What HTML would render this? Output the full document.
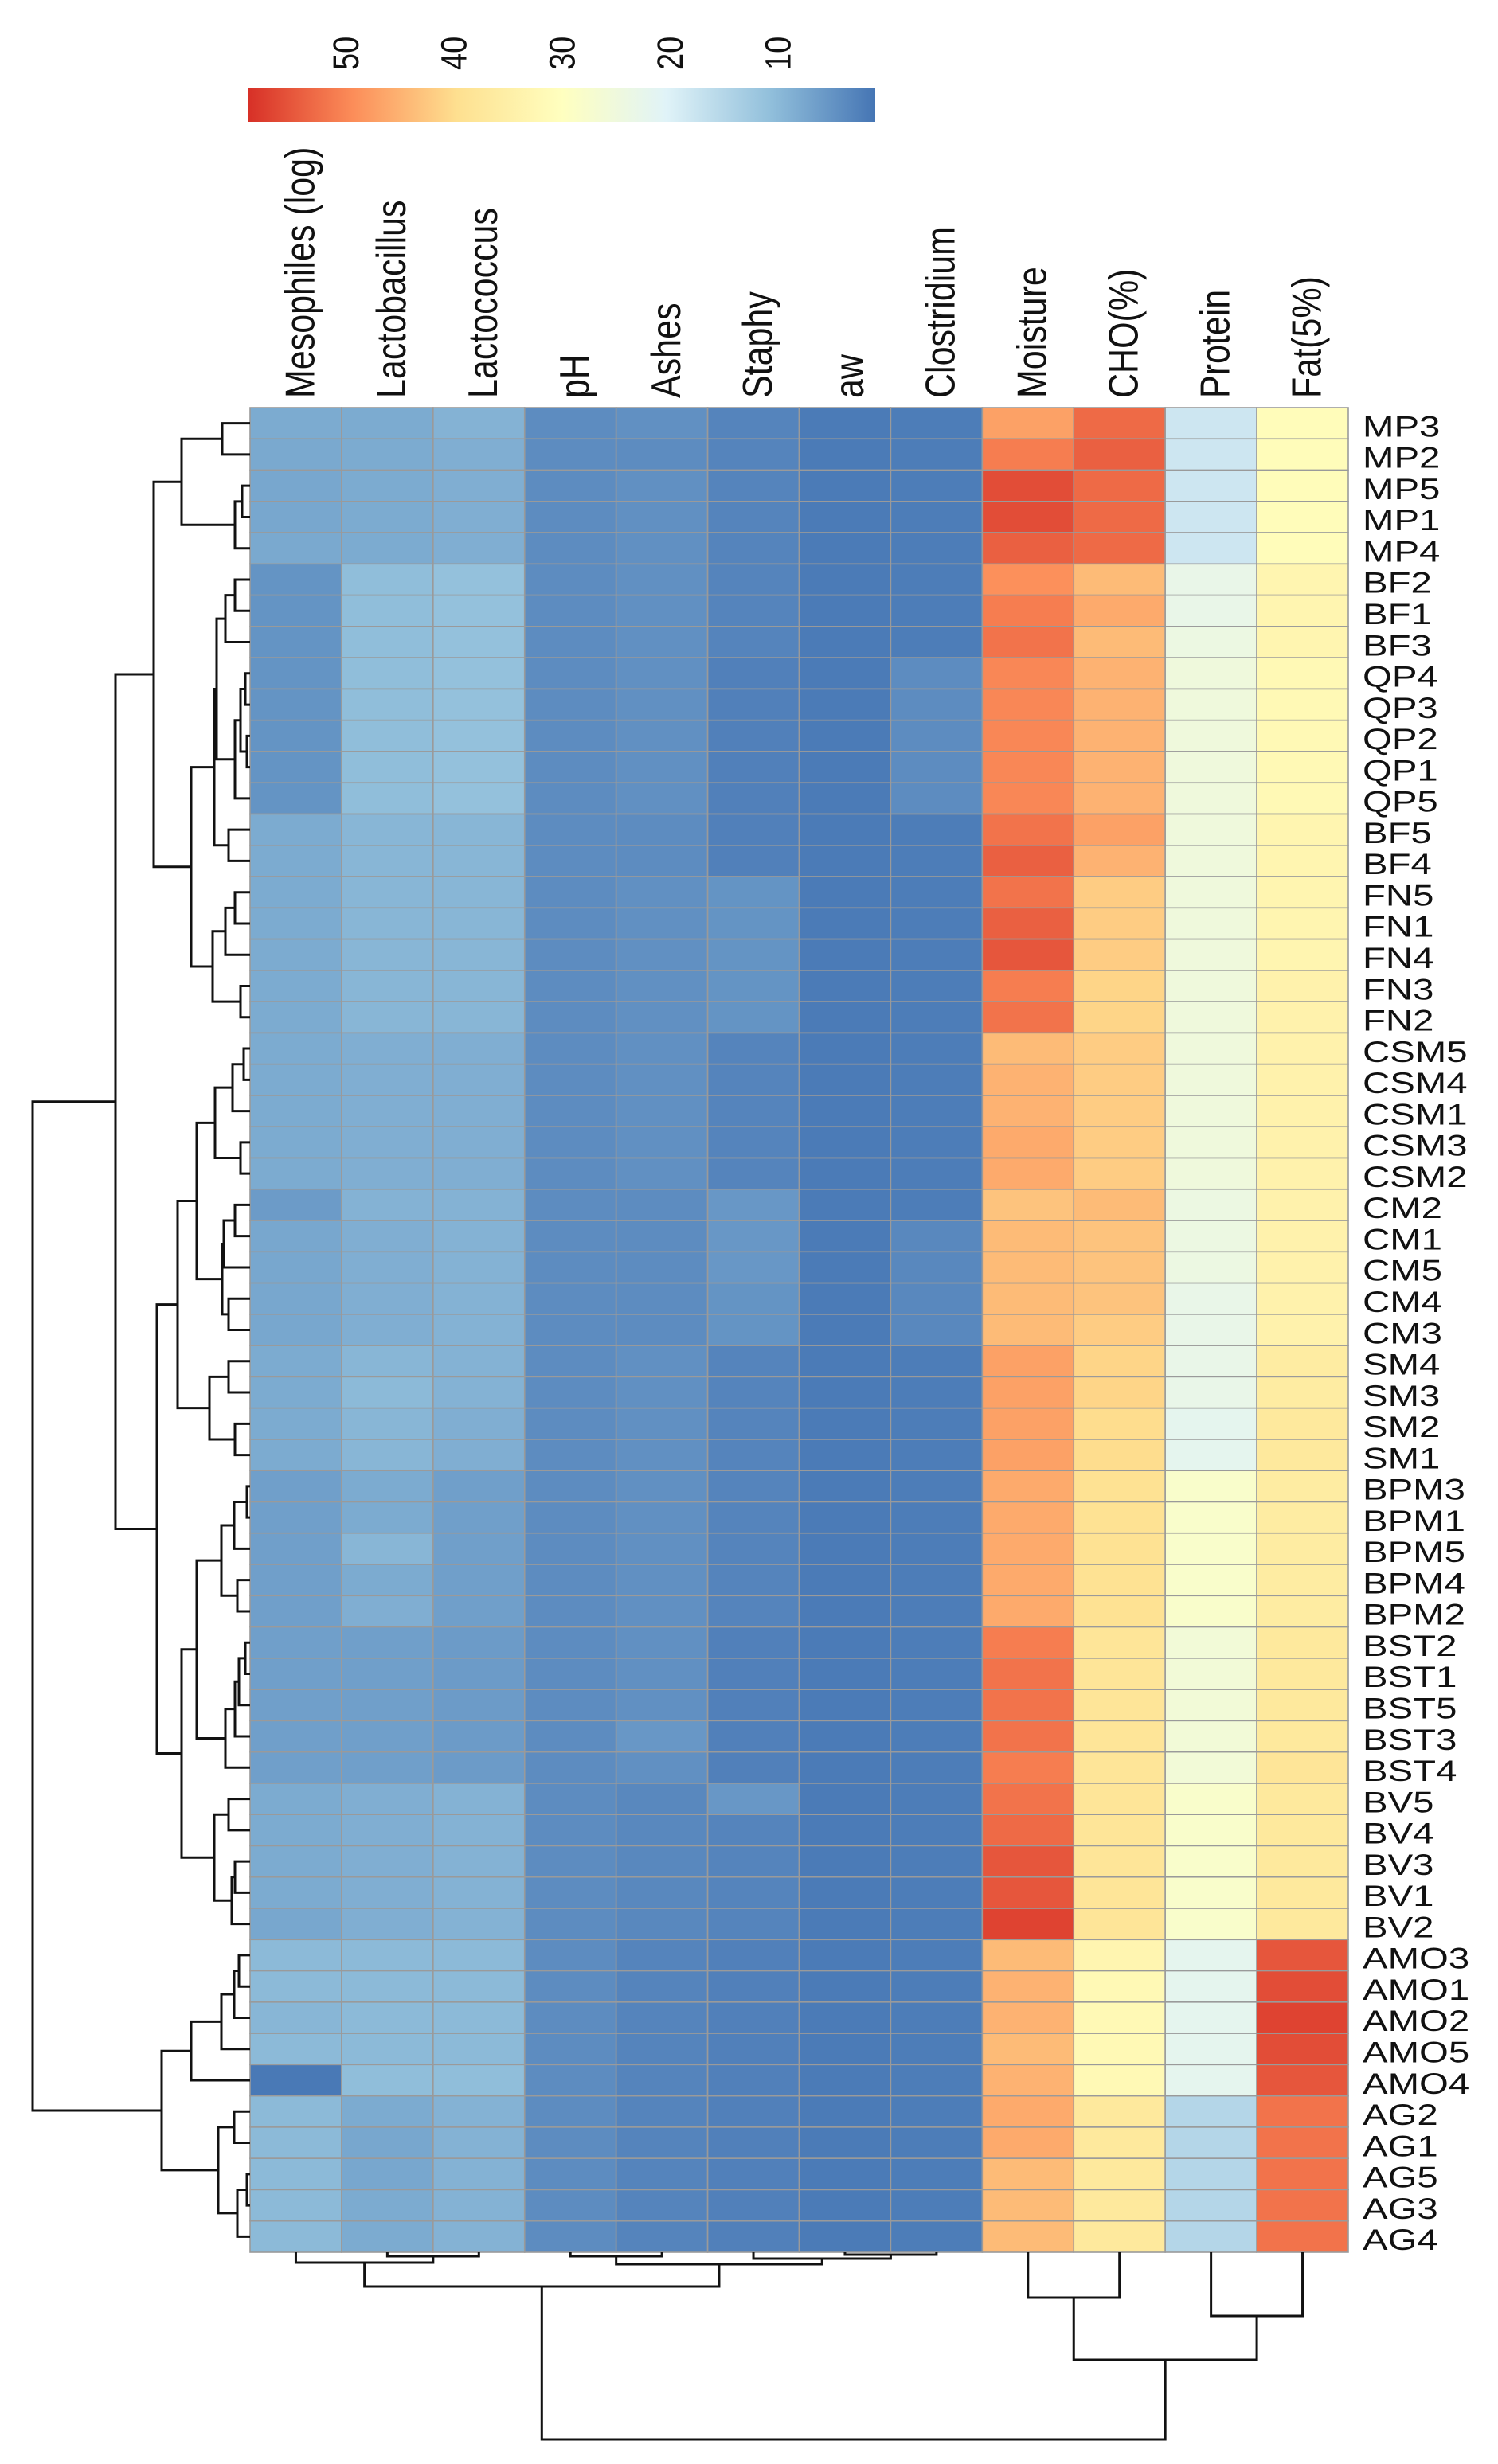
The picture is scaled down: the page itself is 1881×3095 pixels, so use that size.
<!DOCTYPE html>
<html><head><meta charset="utf-8">
<style>
html,body{margin:0;padding:0;background:#fff;}
svg{display:block;}
text{font-family:"Liberation Sans",Arial,sans-serif;fill:#111;}
</style></head>
<body>
<svg id="chart" xmlns="http://www.w3.org/2000/svg" width="1881" height="3095" viewBox="0 0 1881 3095">
<defs>
<linearGradient id="cbgrad" x1="0" x2="1" y1="0" y2="0">
<stop offset="0" stop-color="#D73027"/>
<stop offset="0.1667" stop-color="#FC8D59"/>
<stop offset="0.3333" stop-color="#FEE090"/>
<stop offset="0.5" stop-color="#FFFFBF"/>
<stop offset="0.6667" stop-color="#E0F3F8"/>
<stop offset="0.8333" stop-color="#91BFDB"/>
<stop offset="1" stop-color="#4575B4"/>
</linearGradient>
</defs>
<g id="legend"></g>
<g id="collabels"></g>
<g id="cells"></g>
<g id="rowlabels"></g>
<g id="rowdend"></g>
<g id="coldend"></g>
</svg>
<script>
var columns = ["Mesophiles (log)","Lactobacillus","Lactococcus","pH","Ashes","Staphy","aw","Clostridium","Moisture","CHO(%)","Protein","Fat(5%)"];
var rows = ["MP3","MP2","MP5","MP1","MP4","BF2","BF1","BF3","QP4","QP3","QP2","QP1","QP5","BF5","BF4","FN5","FN1","FN4","FN3","FN2","CSM5","CSM4","CSM1","CSM3","CSM2","CM2","CM1","CM5","CM4","CM3","SM4","SM3","SM2","SM1","BPM3","BPM1","BPM5","BPM4","BPM2","BST2","BST1","BST5","BST3","BST4","BV5","BV4","BV3","BV1","BV2","AMO3","AMO1","AMO2","AMO5","AMO4","AG2","AG1","AG5","AG3","AG4"];
var legendTicks = [50,40,30,20,10];
var colorMin = 1, colorMax = 59;
var mesophiles = [8,7.8,7.5,7.5,7.8, 5,5,5,5,5,5,5,5, 8,8, 8,8,8,8,8, 8,8,8,8,8, 6,7.5,7.5,7.5,7.5, 8,8,8,8, 6.5,6.5,6.5,6.5,6.5, 6.5,6.5,6.5,6.5,6.5, 8,8,8,8,7.5, 10,10,9.5,10,1.5, 10,10,10,10,10];
var lactobacillus = [8,8,8,8,8, 10.5,10.5,10.5,10.5,10.5,10.5,10.5,10.5, 9.5,9.5, 9.5,9.5,9.5,9.5,9.5, 8.5,8.5,8.5,8.5,8.5, 9,8.5,8.5,8.5,8.5, 9.5,10,9.5,9.5, 8,8,9.5,8,8.5, 6.5,6.5,6.5,6.5,6.5, 8.5,8.5,8.5,8.5,8.5, 10,10,10,10,10.5, 8,7.5,7.5,8,8];
var lactococcus = [9,8.5,8.5,8.5,8.5, 11,11,11,11,11,11,11,11, 9.5,9.5, 9.5,9.5,9.5,9.5,9.5, 8.5,8.5,8.5,8.5,8.5, 9,9,9,9,9, 9,9,8.5,8.5, 6.5,6.5,6.5,6.5,6.5, 6,6,6,6,6, 9,9,9,9,9, 10,10,10,10,10.5, 9,9,9,9,9];
var pH = [4,4,4,4,4, 4,4,4,4,4,4,4,4, 4,4, 4,4,4,4,4, 4,4,4,4,4, 4,4,4,4,4, 4,4,4,4, 4,4,4,4,4, 4,4,4,4,4, 4,4,4,4,4, 4,4,4,4,4, 4,4,4,4,4];
var ashes = [4.5,4,4.5,4.5,4.5, 4.5,4.5,4.5,4.5,4.5,4.5,4.5,4.5, 4,4, 4.5,4.5,4.5,4.5,4.5, 4.5,4.5,4.5,4.5,4.5, 4,4,4,4,4, 4.5,4.5,4.5,4.5, 4.5,4.5,4.5,4.5,4.5, 4.5,4.5,4.5,5.5,4.5, 3.5,3.5,3.5,3.5,3.5, 3,3,3,3,3, 3,3,3,3,3];
var staphy = [3,3,3,3,3, 3,3,3,2.5,2.5,2.5,2.5,2.5, 2.5,2.5, 5,5,5,5,5, 3,3,3,3,3, 5.5,5.5,5.5,5,5, 3,3,3,3, 3,3,3,3,3, 2.5,2.5,2.5,2.5,2.5, 5.5,3,3,3,3, 2.5,2.5,2.5,2.5,2.5, 2.5,2.5,2.5,2.5,2.5];
var aw = [1.8,1.8,1.8,1.8,1.8, 1.8,1.8,1.8,1.8,1.8,1.8,1.8,1.8, 1.8,1.8, 1.8,1.8,1.8,1.8,1.8, 1.8,1.8,1.8,1.8,1.8, 1.8,1.8,1.8,1.8,1.8, 1.8,1.8,1.8,1.8, 1.8,1.8,1.8,1.8,1.8, 1.8,1.8,1.8,1.8,1.8, 1.8,1.8,1.8,1.8,1.8, 1.8,1.8,1.8,1.8,1.8, 1.8,1.8,1.8,1.8,1.8];
var clostridium = [2,2,2,2,2, 2,2,2,4,4,4,4,4, 2,2, 2,2,2,2,2, 2,2,2,2,2, 2,3.5,3.5,3.5,3.5, 2,2,2,2, 2,2,2,2,2, 2,2,2,2,2, 2,2,2,2,2, 2,2,2,2,2, 2,2,2,2,2];
var moisture = [47,51,56,56,54, 49,51,52,50,50,50,50,50, 52,54, 52,54,55,51,52, 44,45,45,46,46, 43,44,44,44,44, 47,47,47,47, 46,46,46,46,46, 51,52,52,52,51, 52,53,55,55,57, 44,45,45,44,45, 46,46,44,44,44];
var cho = [53,54,53,53,53, 44,46,44,45,45,45,45,45, 47,45, 42,42,42,41,41, 42,42,42,42,42, 44,43,43,43,42, 41,41,40,40, 39,39,39,39,39, 38,38,38,38,38, 38,38,38,38,38, 33,32,32,32,32, 37,37,37,37,37];
var protein = [18,18,18,18,18, 23,23,24,25,25,25,25,25, 25,25, 25,25,25,25,25, 25,25,25,25,25, 24,24,24,23,23, 23,23,22,22, 28,28,28,28,28, 26,26,26,26,26, 28,28,28,28,28, 22,22,22,22,22, 15,15,15,15,15];
var fat = [31,31,31,31,31, 33,33,33,32,32,32,32,32, 33,33, 33,33,33,34,34, 34,34,34,34,34, 34,34,34,34,34, 36,36,37,37, 36,36,36,36,36, 37,37,37,37,38, 37,37,37,37,37, 55,56,57,56,55, 52,52,52,52,52];
var series = [mesophiles,lactobacillus,lactococcus,pH,ashes,staphy,aw,clostridium,moisture,cho,protein,fat];
var rowTree = [41,
  [145,
    [193,
      [228,[279,0,1],[295,[304,2,3],4]],
      [240,
        [269,[272,[283,[295,5,6],7],[295,[302,[308,8,9],[310,10,11]],12]],[287,13,14]],
        [267,[283,[295,15,16],17],[302,18,19]]
      ]
    ],
    [197,
      [223,
        [247,[270,[292,[306,20,21],22],[302,23,24]],[279,[281,[295,25,26],27],[287,28,29]]],
        [263,[287,30,31],[295,32,33]]
      ],
      [228,
        [247,[278,[294,[310,34,35],36],[298,37,38]],[283,[295,[300,[308,39,40],41],42],43]],
        [269,[287,44,45],[291,[295,46,47],48]]
      ]
    ]
  ],
  [203,
    [240,[278,[294,[300,49,50],51],52],53],
    [274,[294,54,55],[298,[310,56,57],58]]
  ]
];
var colTree = [235,
  [43,[13,0,[5,1,2]],[15,[5,3,4],[8,5,[3,6,7]]]],
  [135,[57,8,9],[80,10,11]]
];

var NS="http://www.w3.org/2000/svg";
var HX=314, HY=512, HW=1379, HH=2317;
var CW=HW/columns.length, RH=HH/rows.length;
var stops=[[0,[0x45,0x75,0xB4]],[1/6,[0x91,0xBF,0xDB]],[2/6,[0xE0,0xF3,0xF8]],[3/6,[0xFF,0xFF,0xBF]],[4/6,[0xFE,0xE0,0x90]],[5/6,[0xFC,0x8D,0x59]],[1,[0xD7,0x30,0x27]]];
function colorOf(v){var t=(v-colorMin)/(colorMax-colorMin);t=Math.max(0,Math.min(1,t));
 for(var i=1;i<stops.length;i++){if(t<=stops[i][0]){var a=stops[i-1],b=stops[i],f=(t-a[0])/(b[0]-a[0]);
 return 'rgb('+[0,1,2].map(function(k){return Math.round(a[1][k]+(b[1][k]-a[1][k])*f)}).join(',')+')';}}return 'rgb(215,48,39)';}
function mk(tag,attrs,parent){var e=document.createElementNS(NS,tag);for(var k in attrs)e.setAttribute(k,attrs[k]);parent.appendChild(e);return e;}
function xCol(j){return HX+j*CW;}
function yRow(i){return HY+i*RH;}
function xLegend(v){return 1099-(v-colorMin)*(1099-312)/(colorMax-colorMin);}

var lg=document.getElementById('legend');
var bar=mk('rect',{x:xLegend(colorMax),y:110,width:xLegend(colorMin)-xLegend(colorMax),height:43,fill:'url(#cbgrad)'},lg);


legendTicks.forEach(function(v){
 var t=mk('text',{transform:'translate('+xLegend(v)+',88) scale(1.2,1) rotate(-90)','font-size':38,'dominant-baseline':'central'},lg);
 t.textContent=v;
 
 
});
var cl=document.getElementById('collabels');
columns.forEach(function(c,j){
 var t=mk('text',{transform:'translate('+(xCol(j)+CW/2+6)+',500) scale(1.2,1) rotate(-90)','font-size':43,'dominant-baseline':'central'},cl);
 t.textContent=c;
 
 
});
var cg=document.getElementById('cells');
for(var i=0;i<rows.length;i++){for(var j=0;j<columns.length;j++){
 var r=mk('rect',{x:xCol(j),y:yRow(i),width:CW,height:RH,fill:colorOf(series[j][i]),stroke:'#9a9a9a','stroke-width':1.6},cg);
 
 
}}
var rl=document.getElementById('rowlabels');
rows.forEach(function(n,i){
 var t=mk('text',{transform:'translate(1711,'+(yRow(i)+RH/2+5)+') scale(1.28,1)','font-size':37,'dominant-baseline':'central'},rl);
 t.textContent=n;
 
 
});
var rd=document.getElementById('rowdend');
function drawRow(node){
 if(typeof node==='number')return {x:HX,y:yRow(node)+RH/2};
 var a=drawRow(node[1]),b=drawRow(node[2]),x=node[0];
 var p=mk('path',{d:'M'+a.x+','+a.y+'H'+x+'V'+b.y+'H'+b.x,fill:'none',stroke:'#111','stroke-width':3},rd);
 
 
 return {x:x,y:(a.y+b.y)/2};
}
drawRow(rowTree);
var cd=document.getElementById('coldend');
var CB=HY+HH;
function drawCol(node){
 if(typeof node==='number')return {x:xCol(node)+CW/2,y:CB};
 var a=drawCol(node[1]),b=drawCol(node[2]),y=CB+node[0];
 var p=mk('path',{d:'M'+a.x+','+a.y+'V'+y+'H'+b.x+'V'+b.y,fill:'none',stroke:'#111','stroke-width':3},cd);
 
 
 return {x:(a.x+b.x)/2,y:y};
}
drawCol(colTree);
</script>
</body></html>
